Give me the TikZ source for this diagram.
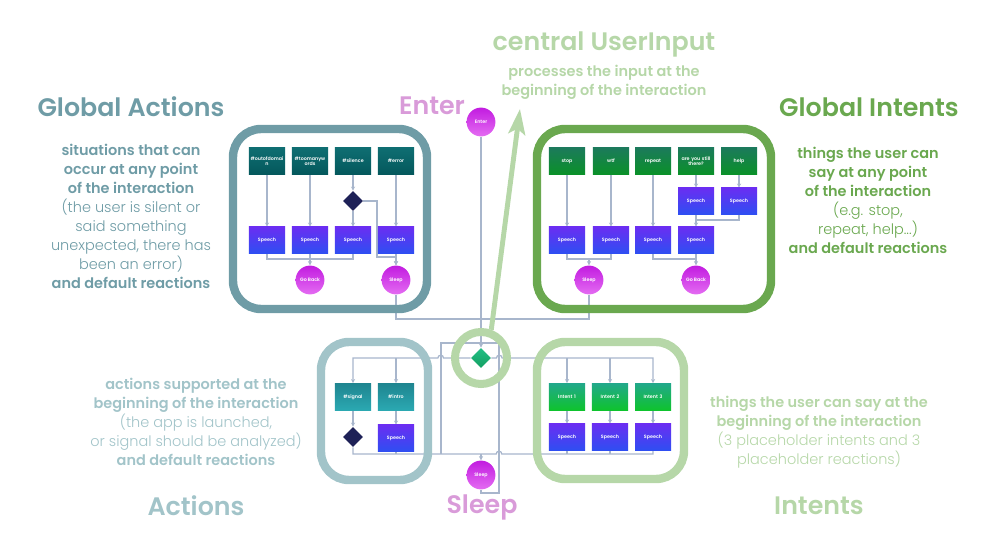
\documentclass[tikz,border=0pt]{standalone}
\usepackage{fontspec}
\setmainfont{Poppins Light}[BoldFont={Poppins SemiBold}]
\usetikzlibrary{shapes.geometric,arrows.meta}
\definecolor{gacol}{HTML}{6F9CA6}
\definecolor{gicol}{HTML}{6AA84F}
\definecolor{acol}{HTML}{A2C4C9}
\definecolor{icol}{HTML}{B6D7A8}
\definecolor{encol}{HTML}{D99BD9}
\definecolor{linecol}{HTML}{A8B6CC}
\definecolor{navy}{HTML}{1E2157}
\definecolor{gatopA}{HTML}{0F6E72}
\definecolor{gatopB}{HTML}{04585C}
\definecolor{gitopA}{HTML}{1C7A5C}
\definecolor{gitopB}{HTML}{0A9128}
\definecolor{atopA}{HTML}{1F8590}
\definecolor{atopB}{HTML}{2BA9B2}
\definecolor{itopA}{HTML}{22A88A}
\definecolor{itopB}{HTML}{0EC42C}
\definecolor{speechA}{HTML}{6A2EF2}
\definecolor{speechB}{HTML}{2F4EF2}
\definecolor{circA}{HTML}{C21CE0}
\definecolor{circB}{HTML}{E46CF2}
\definecolor{uiA}{HTML}{22BE84}
\definecolor{uiB}{HTML}{14A062}
\tikzset{
    block/.style={rectangle, minimum width=0.9cm, minimum height=0.675cm,
    	inner sep=0.5pt, text width=0.85cm, align=center, text=white,
    	font=\fontsize{3.4}{3.8}\selectfont\bfseries}
}
\tikzset{
    gatop/.style={block, top color=gatopA, bottom color=gatopB},
    gitop/.style={block, top color=gitopA, bottom color=gitopB},
    atop/.style={block, top color=atopA, bottom color=atopB},
    itop/.style={block, top color=itopA, bottom color=itopB},
    speech/.style={block, minimum height=0.65cm, top color=speechA,
    	bottom color=speechB},
    flowcircle/.style={circle, minimum size=0.72cm, inner sep=0, text=white,
    	font=\fontsize{3.4}{3.8}\selectfont\bfseries, top color=circA,
    	bottom color=circB},
    decision/.style={diamond, minimum width=0.5cm, minimum height=0.5cm,
    	inner sep=0, fill=navy},
    frame/.style={line width=6pt, rounded corners=20pt},
    conn/.style={draw=linecol, line width=0.9pt},
    title/.style={font=\fontsize{18}{21}\selectfont\bfseries, inner sep=0},
    desc/.style={font=\fontsize{10.3}{13.5}\selectfont, align=center, inner sep=0},
    >={Stealth[length=3pt,width=3pt]}
}
\pgfdeclarelayer{background}
\pgfsetlayers{background,main}
\begin{document}
\begin{tikzpicture}[x=0.025cm,y=-0.025cm]
	\useasboundingbox (0,0) rectangle (1002,558);
	% titles and texts
	\node [title, text=gacol] (tga) at (131,107) {Global Actions};
	\node [desc, text=gacol] (dga) at (131,216) {\textbf{situations that can}\\
		\textbf{occur at any point}\\\textbf{of the interaction}\\
		(the user is silent or\\said something\\unexpected, there has\\
		been an error)\\\textbf{and default reactions}};
	\node [title, text=gicol] (tgi) at (869,107) {Global Intents};
	\node [desc, text=gicol] (dgi) at (868,200) {\textbf{things the user can}\\
		\textbf{say at any point}\\\textbf{of the interaction}\\
		(e.g. stop,\\repeat, help...)\\\textbf{and default reactions}};
	\node [title, text=icol] (tui) at (604,44) {central UserInput};
	\node [desc, text=icol] (dui) at (604,82) {\textbf{processes the input at the}\\
		\textbf{beginning of the interaction}};
	\node [title, text=encol] (ten) at (432,106) {Enter};
	\node [title, text=encol] (tsl) at (482,507) {Sleep};
	\node [title, text=acol] (tac) at (196,506) {Actions};
	\node [desc, text=acol] (dac) at (196,422) {\textbf{actions supported at the}\\
		\textbf{beginning of the interaction}\\(the app is launched,\\
		or signal should be analyzed)\\\textbf{and default reactions}};
	\node [title, text=icol] (tin) at (819,506) {Intents};
	\node [desc, text=icol] (din) at (819,432) {\textbf{things the user can say at the}\\
		\textbf{beginning of the interaction}\\(3 placeholder intents and 3\\
		placeholder reactions)};
	% frames
	\draw [frame, draw=gacol] (233,129) rectangle (427,309);
	\draw [frame, draw=gicol] (537,129) rectangle (771,309);
	\draw [frame, draw=acol] (321,342) rectangle (428,480);
	\draw [frame, draw=icol] (537,342) rectangle (684,479);
	% global actions
	\node [gatop] (ood) at (267,161) {\#outofdomai\\n};
	\node [gatop] (tmw) at (310,161) {\#toomanyw\\ords};
	\node [gatop] (sil) at (353,161) {\#silence};
	\node [gatop] (err) at (396,161) {\#error};
	\node [decision] (sild) at (353,201) {};
	\node [speech] (gas1) at (267,240) {Speech};
	\node [speech] (gas2) at (310,240) {Speech};
	\node [speech] (gas3) at (353,240) {Speech};
	\node [speech] (gas4) at (396,240) {Speech};
	\node [flowcircle] (gaback) at (310,280) {Go Back};
	\node [flowcircle] (gasleep) at (396,280) {Sleep};
	% global intents
	\node [gitop] (gi1) at (567,161) {stop};
	\node [gitop] (gi2) at (611,161) {wtf};
	\node [gitop] (gi3) at (653,161) {repeat};
	\node [gitop] (gi4) at (696,161) {are you still\\there?};
	\node [gitop] (gi5) at (739,161) {help};
	\node [speech] (gisA) at (696,201) {Speech};
	\node [speech] (gisB) at (739,201) {Speech};
	\node [speech] (gis1) at (567,240) {Speech};
	\node [speech] (gis2) at (611,240) {Speech};
	\node [speech] (gis3) at (653,240) {Speech};
	\node [speech] (gis4) at (696,240) {Speech};
	\node [flowcircle] (gisleep) at (589,280) {Sleep};
	\node [flowcircle] (giback) at (696,280) {Go Back};
	% center
	\node [flowcircle] (enter) at (481,122) {Enter};
	\node [diamond, minimum width=0.5cm, minimum height=0.5cm, inner sep=0,
		top color=uiA, bottom color=uiB] (ui) at (481,358) {};
	\node [circle, draw=icol, line width=5.7pt, minimum size=1.3cm] (ring) at (481,358) {};
	\node [flowcircle] (sleep) at (481,475) {Sleep};
	\coordinate (uitip) at (520,109);
	\draw [icol, line width=3.5pt, -{Stealth[length=18pt,width=12pt,inset=4pt]}]
		(ring.70) -- (uitip);
	% actions
	\node [atop] (asig) at (353,397) {\#signal};
	\node [atop] (aint) at (396,397) {\#intro};
	\node [decision] (adia) at (353,437) {};
	\node [speech] (asp) at (396,438) {Speech};
	% intents
	\node [itop] (int1) at (567,397) {Intent 1};
	\node [itop] (int2) at (610,397) {Intent 2};
	\node [itop] (int3) at (653,397) {Intent 3};
	\node [speech] (isp1) at (567,437) {Speech};
	\node [speech] (isp2) at (610,437) {Speech};
	\node [speech] (isp3) at (653,437) {Speech};
	\coordinate (gam) at (310,259);
	\coordinate (gasj) at (377,257);
	\coordinate (gj) at (481,319);
	\coordinate (gim) at (696,220);
	\coordinate (gisj) at (589,259);
	\coordinate (gibj) at (696,259);
	\coordinate (bl) at (481,454);
	\coordinate (lt) at (441,343);
	\coordinate (rt) at (499,343);
	\coordinate (rb) at (499,493);
	\begin{pgfonlayer}{background}
		\draw [conn,->] (ood) -- (gas1);
		\draw [conn,->] (tmw) -- (gas2);
		\draw [conn,->] (sil) -- (sild);
		\draw [conn,->] (sild) -- (gas3);
		\draw [conn,->] (err) -- (gas4);
		\draw [conn] (gas1) |- (gam) -| (gas3);
		\draw [conn,->] (gas2) -- (gaback);
		\draw [conn,->] (sild.east) -| (gasj) -| (gasleep);
		\draw [conn,->] (gas4) -- (gasleep);
		\draw [conn] (gasleep) |- (gj);
		\draw [conn,->] (gi1) -- (gis1);
		\draw [conn,->] (gi2) -- (gis2);
		\draw [conn,->] (gi3) -- (gis3);
		\draw [conn,->] (gi4) -- (gisA);
		\draw [conn,->] (gi5) -- (gisB);
		\draw [conn,->] (gisA) -- (gis4);
		\draw [conn] (gisB) |- (gim);
		\draw [conn] (gis1) |- (gisj) -| (gis2);
		\draw [conn,->] (gisj) -- (gisleep);
		\draw [conn] (gis3) |- (gibj);
		\draw [conn,->] (gis4) -- (giback);
		\draw [conn] (gisleep) |- (gj);
		\draw [conn,->] (enter) -- (ui);
		\draw [conn,->] (ui.west) -- ++(-27.2,0) arc[start angle=0,end angle=180,radius=2pt] -| (asig);
		\draw [conn,->] (aint |- ui) -- (aint);
		\draw [conn,->] (ui.east) -- ++(5.2,0) arc[start angle=180,end angle=0,radius=2pt] -| (int3);
		\draw [conn,->] (int1 |- ui) -- (int1);
		\draw [conn,->] (int2 |- ui) -- (int2);
		\draw [conn,->] (asig) -- (adia);
		\draw [conn,->] (aint) -- (asp);
		\draw [conn,->] (int1) -- (isp1);
		\draw [conn,->] (int2) -- (isp2);
		\draw [conn,->] (int3) -- (isp3);
		\draw [conn] (adia) |- (496.2,454) arc[start angle=180,end angle=0,radius=2pt] -| (isp3);
		\draw [conn] (asp) -- (asp |- bl);
		\draw [conn] (isp1) -- (isp1 |- bl);
		\draw [conn] (isp2) -- (isp2 |- bl);
		\draw [conn,->] (bl) -- (sleep);
		\draw [conn] (lt |- bl) -- (lt) -- (rt) -- (rb) -| (sleep);
	\end{pgfonlayer}
\end{tikzpicture}
\end{document}
